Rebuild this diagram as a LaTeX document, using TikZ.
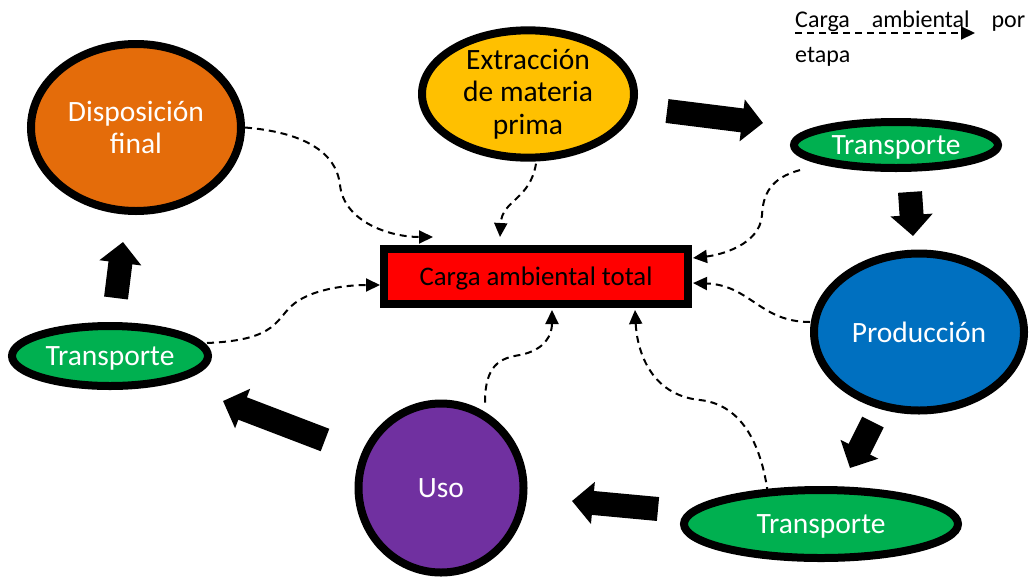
\documentclass[tikz,border=0pt]{standalone}
\usepackage{fontspec}
\setmainfont{Carlito}
\usetikzlibrary{shapes.geometric,arrows.meta}
\definecolor{cOrange}{RGB}{228,108,10}
\definecolor{cYellow}{RGB}{255,192,0}
\definecolor{cGreen}{RGB}{0,176,80}
\definecolor{cBlue}{RGB}{0,112,192}
\definecolor{cPurple}{RGB}{112,48,160}
\definecolor{cRed}{RGB}{255,0,0}
\tikzset{
  stage/.style={ellipse, draw=black, line width=8pt, inner sep=0pt, align=center,
    font=\fontsize{29.5}{32.5}\selectfont},
  oneline/.style={text depth=0pt},
  totalbox/.style={rectangle, draw=black, line width=8pt, fill=cRed, inner sep=0pt,
    text depth=0pt, font=\fontsize{26.8}{30}\selectfont},
  flow/.style={line width=24pt, line cap=butt, -{Triangle[length=21pt,width=41pt]}},
  load/.style={line width=2pt, dash pattern=on 7pt off 5pt, -{Triangle[length=14pt,width=13pt]}},
}
\begin{document}
\begin{tikzpicture}[x=1pt,y=-1pt]
\useasboundingbox (0,0) rectangle (1032,579);
% stages
\node[stage, fill=cOrange, text=white, minimum width=210pt, minimum height=167pt] (disp) at (136,127.5) {Disposición\\final};
\node[stage, fill=cYellow, text=black, minimum width=212pt, minimum height=120pt] (extr) at (528,94) {Extracción\\de materia\\prima};
\node[stage, oneline, fill=cGreen, text=white, minimum width=204pt, minimum height=46pt] (tra) at (896,145) {Transporte};
\node[stage, fill=cBlue, text=white, minimum width=210pt, minimum height=157pt] (prod) at (919,332) {Producción};
\node[stage, oneline, fill=cGreen, text=white, minimum width=274pt, minimum height=68pt] (trb) at (821,524) {Transporte};
\node[stage, fill=cPurple, text=white, minimum width=165pt, minimum height=169pt] (uso) at (441,488) {Uso};
\node[stage, oneline, fill=cGreen, text=white, minimum width=196pt, minimum height=60pt] (trc) at (110,356) {Transporte};
\node[totalbox, minimum width=304pt, minimum height=55pt] (total) at (536,276.5) {Carga ambiental total};
% legend
\node[anchor=north west, inner sep=0pt, text width=230pt, align=justify,
  font=\fontsize{24}{35}\selectfont] (leg) at (795,11) {\hyphenpenalty=10000 Carga ambiental por etapa};
\coordinate (legA) at (795,33);
\coordinate (legB) at (975,33);
\draw[load] (legA) -- (legB);
% block arrows
\coordinate (f1a) at (667,111); \coordinate (f1b) at (763,123);
\coordinate (f2a) at (910,192); \coordinate (f2b) at (913,236);
\coordinate (f3a) at (873,422); \coordinate (f3b) at (850,468);
\coordinate (f4a) at (658,509); \coordinate (f4b) at (572,501);
\coordinate (f5a) at (325,440); \coordinate (f5b) at (223,401);
\coordinate (f6a) at (116,298); \coordinate (f6b) at (123,242);
\draw[flow] (f1a) -- (f1b);
\draw[flow] (f2a) -- (f2b);
\draw[flow] (f3a) -- (f3b);
\draw[flow] (f4a) -- (f4b);
\draw[flow] (f5a) -- (f5b);
\draw[flow] (f6a) -- (f6b);
% dashed loads to total
\coordinate (t1) at (433,237);
\coordinate (t2) at (500,237);
\coordinate (t3) at (693,258);
\coordinate (t4) at (693,283);
\coordinate (t5) at (635,310);
\coordinate (t6) at (552,310);
\coordinate (t7) at (380,285);
\draw[load] (disp.east) .. controls (300,132) and (336,150) .. (340,185) .. controls (344,222) and (390,237) .. (t1);
\draw[load] (extr.south) ++(8,2) .. controls (530,200) and (502,200) .. (t2);
\draw[load] (tra.south west) ++(-21,6) .. controls (770,178) and (763,195) .. (762,215) .. controls (760,245) and (720,255) .. (t3);
\draw[load] (prod.west) ++(0,-10) .. controls (760,322) and (750,285) .. (t4);
\draw[load] (trb.north) ++(-53,8) .. controls (762,450) and (745,405) .. (700,400) .. controls (650,395) and (637,350) .. (t5);
\draw[load] (uso.north) ++(44,3) .. controls (485,365) and (500,358) .. (520,355) .. controls (545,350) and (552,335) .. (t6);
\draw[load] (trc.east) ++(-5,-13) .. controls (280,340) and (275,318) .. (295,303) .. controls (315,288) and (350,285) .. (t7);
\end{tikzpicture}
\end{document}
